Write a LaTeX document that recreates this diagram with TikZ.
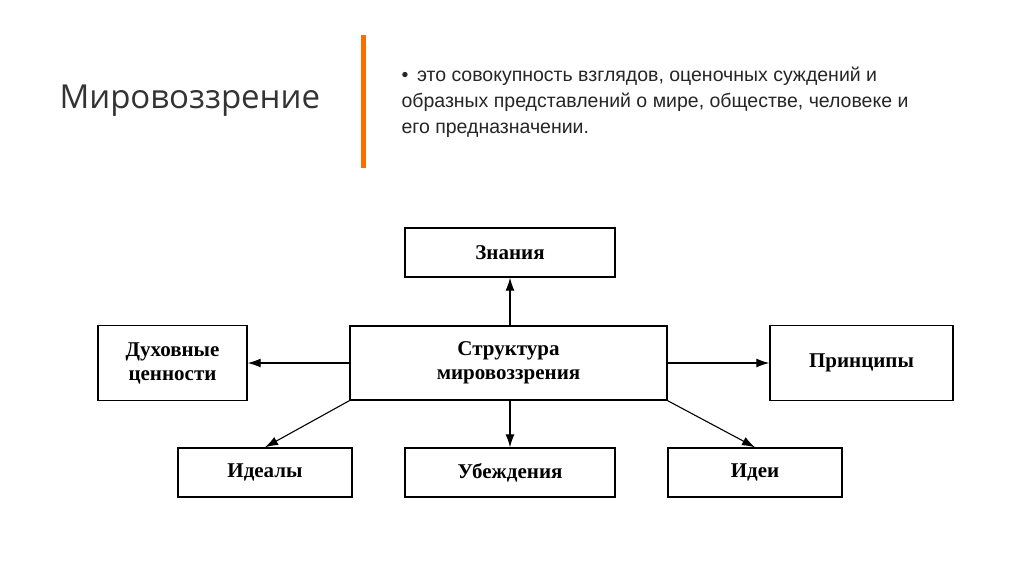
\documentclass[tikz,border=0pt]{standalone}
\usepackage{fontspec}
\usetikzlibrary{arrows.meta}
\setmainfont{Liberation Serif}
\newfontfamily\titlefont{Open Sans}
\newfontfamily\bodyfont{Liberation Sans}
\begin{document}
\begin{tikzpicture}[x=1pt,y=-1pt,
  bx/.style={draw,line width=1.4pt,inner sep=0pt,align=center,font=\fontsize{21}{24}\selectfont\bfseries},
  ar/.style={-{Latex[length=13pt,width=9pt]},line width=1.1pt}]
\useasboundingbox[fill=white] (0,0) rectangle (1024,574);
\node[anchor=west,font=\titlefont\fontsize{33}{38}\selectfont,text=black!80] (title) at (56,101) {Мировоззрение};
\fill[orange!85!red] (361,35) rectangle (366,168);
\node[anchor=north west,align=left,font=\bodyfont\fontsize{19.5}{26}\selectfont,text=black!85] (def) at (398,63)
 {•\, это совокупность взглядов, оценочных суждений и\\образных представлений о мире, обществе, человеке и\\его предназначении.};
\node[bx,minimum width=210,minimum height=49] (zn) at (510,252.5) {Знания};
\node[bx,minimum width=317,minimum height=74] (st) at (508.5,363) {Структура\\мировоззрения};
\node[bx,minimum width=149,minimum height=75] (du) at (172.5,363) {Духовные\\ценности};
\node[bx,minimum width=183,minimum height=75] (pr) at (861.5,363) {Принципы};
\node[bx,minimum width=174,minimum height=49] (id) at (265,472.5) {Идеалы};
\node[bx,minimum width=210,minimum height=49] (ub) at (510,472.5) {Убеждения};
\node[bx,minimum width=174,minimum height=49] (ie) at (755,472.5) {Идеи};
\draw[ar] (st.north -| zn.south) -- (zn.south);
\draw[ar] (st.west) -- (du.east);
\draw[ar] (st.east) -- (pr.west);
\draw[ar] (st.south -| ub.north) -- (ub.north);
\draw[ar] (st.south west) -- (id.north);
\draw[ar] (st.south east) -- (ie.north);
\end{tikzpicture}
\end{document}
